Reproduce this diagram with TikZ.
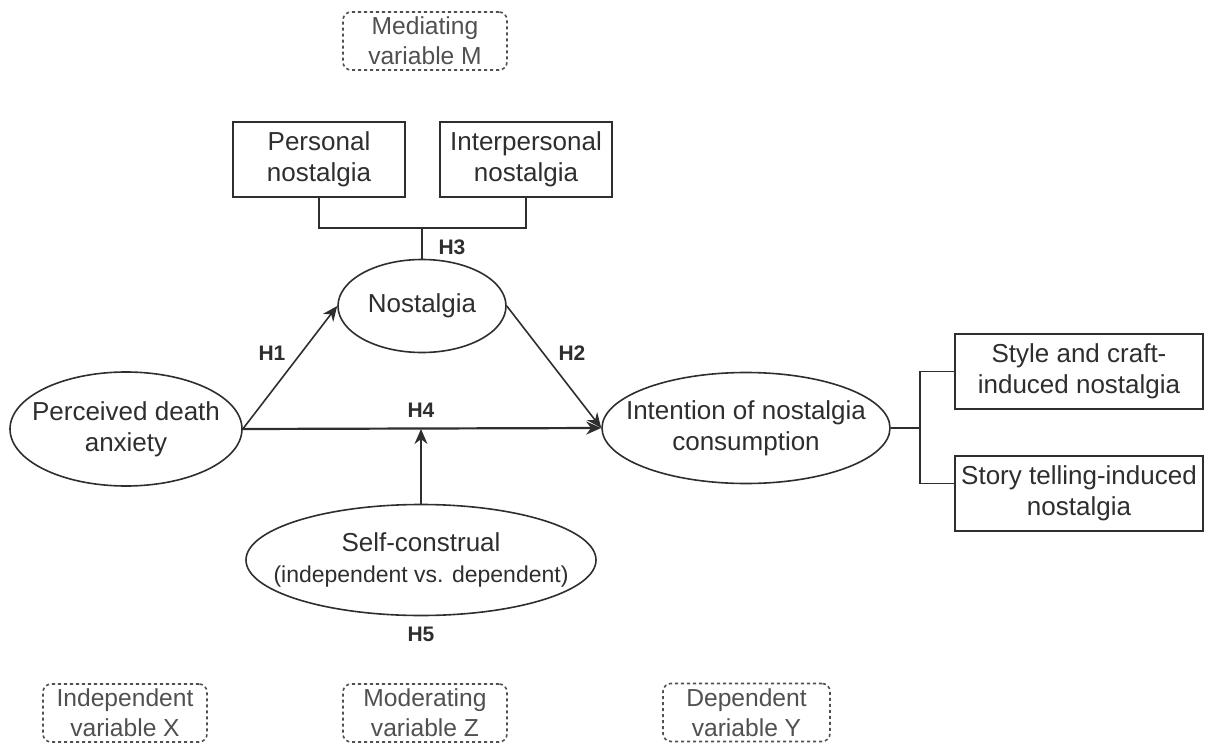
\documentclass[tikz,border=0pt]{standalone}
\usepackage{fontspec}
\setmainfont{Liberation Sans}
\usetikzlibrary{arrows.meta,shapes.geometric}
\definecolor{inkgray}{HTML}{2E2E2E}
\definecolor{dashgray}{HTML}{505050}

\begin{document}
\begin{tikzpicture}[x=0.5pt, y=-0.5pt, >={Stealth[length=7.5pt,width=6.5pt]}, line width=0.8pt, color=inkgray,
    construct/.style={ellipse, draw, inner sep=0pt,
        label={[align=center, inner sep=0pt, font=\fontsize{13}{15.5}\selectfont]center:#1}},
    facet/.style={rectangle, draw, inner sep=0pt, minimum height=37.5pt, align=center, font=\fontsize{13}{15.5}\selectfont},
    role/.style={rectangle, draw=dashgray, dash pattern=on 1.6pt off 1.4pt, rounded corners=4pt, inner sep=0pt,
        minimum width=82pt, minimum height=29pt, align=center, text=dashgray, font=\fontsize{12.3}{15}\selectfont},
    hyp/.style={font=\bfseries\fontsize{10.5}{12}\selectfont}]
    \useasboundingbox (0,0) rectangle (1206,744);

    % variable roles
    \node[role] (med) at (425, 41) {Mediating\\variable M};
    \node[role] (ind) at (125, 713) {Independent\\variable X};
    \node[role] (mod) at (425, 713) {Moderating\\variable Z};
    \node[role, minimum width=83.5pt] (dep) at (746.5, 712.5) {Dependent\\variable Y};

    % constructs
    \node[construct={Perceived death\\anxiety}, minimum width=116pt, minimum height=57pt] (pda) at (126, 429) {};
    \node[construct={Nostalgia}, minimum width=84pt, minimum height=46.5pt] (nos) at (422, 306) {};
    \node[construct={Intention of nostalgia\\consumption}, minimum width=144pt, minimum height=55.5pt] (ion) at (746, 428) {};
    \node[construct={Self-construal\\{\fontsize{11.5}{15}\selectfont(independent vs. dependent)}},
        minimum width=175pt, minimum height=55.5pt] (sc) at (421, 560) {};

    % facets
    \node[facet, minimum width=86pt] (per) at (319, 159.5) {Personal\\nostalgia};
    \node[facet, minimum width=86pt] (inter) at (526, 159.5) {Interpersonal\\nostalgia};
    \node[facet, minimum width=124pt] (sty) at (1079, 371.5) {Style and craft-\\induced nostalgia};
    \node[facet, minimum width=124pt] (sto) at (1079, 493.5) {Story telling-induced\\nostalgia};

    % hypotheses
    \node[hyp] (h1) at (272, 353) {H1};
    \node[hyp] (h2) at (572, 353) {H2};
    \node[hyp] (h3) at (452, 247) {H3};
    \node[hyp] (h4) at (421, 410) {H4};
    \node[hyp] (h5) at (421, 634) {H5};

    % paths
    \draw[->] (pda.east) -- (nos.west);
    \draw[->] (nos.east) -- (ion.west);
    \draw[->, line width=1.1pt] (pda.east) -- (ion.west);
    \coordinate (mid) at (sc.north |- pda.east);
    \draw[->] (sc.north) -- (mid);

    \draw (per.south) -- ++(0,30) coordinate (bar) -| (inter.south);
    \draw (nos.north) -- (nos.north |- bar);

    \draw (sty.west) -- ++(-34,0) coordinate (jr) |- ([yshift=5pt]sto.west);
    \draw (ion.east) -- (ion.east -| jr);
\end{tikzpicture}
\end{document}
